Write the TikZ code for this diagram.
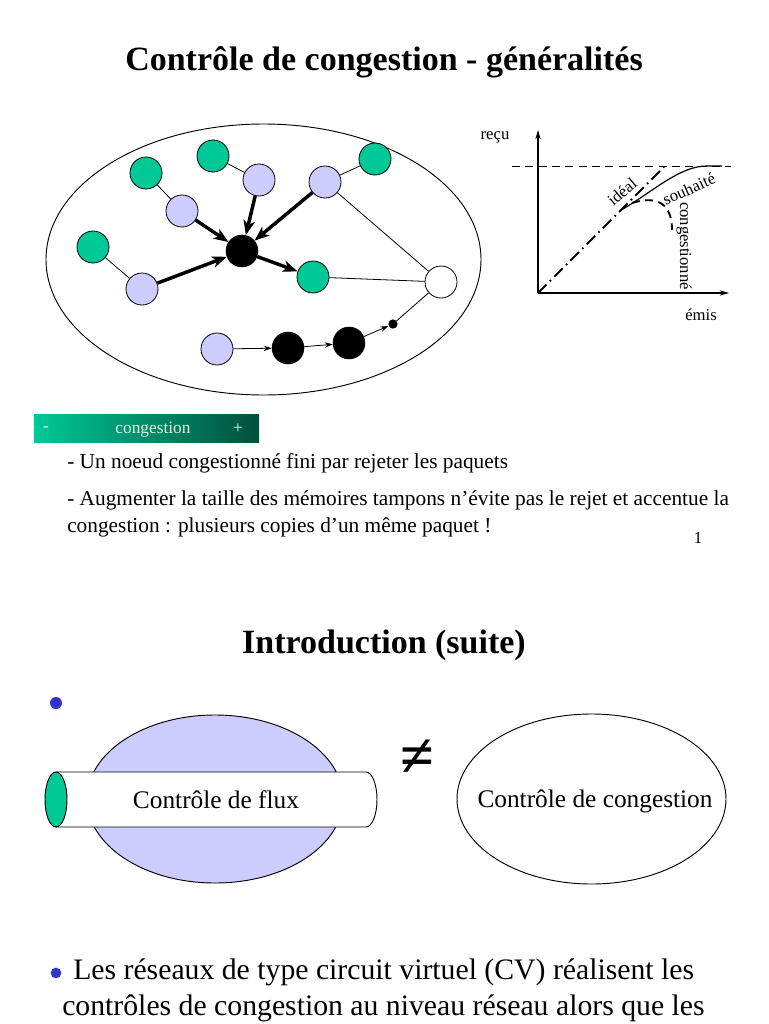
\documentclass[tikz,border=0pt]{standalone}
\usepackage{fontspec}
\setmainfont{Liberation Serif}
\usetikzlibrary{arrows.meta,shapes.geometric}
\definecolor{grn}{HTML}{00C896}
\definecolor{lil}{HTML}{CCCCFF}
\definecolor{bardark}{HTML}{00503C}
\definecolor{bartext}{HTML}{DDF2E6}
\definecolor{bul}{HTML}{3333CC}
\tikzset{
  gnode/.style={circle,draw,line width=0.6pt,fill=grn,minimum size=24pt,inner sep=0pt},
  lnode/.style={circle,draw,line width=0.6pt,fill=lil,minimum size=24pt,inner sep=0pt},
  bnode/.style={circle,draw,fill=black,minimum size=24pt,inner sep=0pt},
  wnode/.style={circle,draw,line width=0.6pt,fill=white,minimum size=24pt,inner sep=0pt},
  dotnode/.style={circle,fill=black,minimum size=7pt,inner sep=0pt},
  thinline/.style={line width=0.6pt},
  heavyarrow/.style={line width=2.6pt,-{Stealth[length=11pt,width=8.5pt,inset=3pt]}},
  lightarrow/.style={line width=0.6pt,-{Stealth[length=6pt,width=4pt]}},
  axisarrow/.style={line width=0.9pt,-{Stealth[length=7pt,width=4pt]}},
  body/.style={font=\fontsize{16}{19}\selectfont,inner sep=0pt,anchor=west},
  big/.style={font=\fontsize{22.3}{26}\selectfont,inner sep=0pt,anchor=west},
  lbl/.style={font=\fontsize{12.5}{14}\selectfont,inner sep=0pt},
  ttl/.style={font=\bfseries\fontsize{25.5}{30}\selectfont,inner sep=0pt},
  bartxt/.style={font=\fontsize{13}{15}\selectfont,text=bartext,inner sep=0pt},
  oval/.style={ellipse,draw,line width=0.7pt,inner sep=0pt},
  bulletdot/.style={circle,fill=bul,inner sep=0pt}
}
\begin{document}
\begin{tikzpicture}[x=0.75pt,y=-0.75pt]
\useasboundingbox (0,0) rectangle (768,1024);

% ---------- Slide 1 ----------
\node[ttl] (title1) at (384,62) {Contrôle de congestion - généralités};

\node[oval,minimum width=326.25pt,minimum height=203.25pt] (net) at (263.5,259.5) {};

\node[gnode] (g1) at (146,173) {};
\node[gnode] (g2) at (213,156) {};
\node[lnode] (l1) at (259,180) {};
\node[lnode] (l2) at (182,211) {};
\node[lnode] (l3) at (325,182) {};
\node[gnode] (g3) at (375,159) {};
\node[gnode] (g4) at (93,247) {};
\node[bnode] (b)  at (242,251) {};
\node[gnode] (g5) at (313,277) {};
\node[lnode] (l4) at (142,289) {};
\node[wnode] (w)  at (441,282) {};
\node[lnode] (l5) at (217,349) {};
\node[bnode] (b2) at (288,348) {};
\node[bnode] (b3) at (349,343) {};
\node[dotnode] (d) at (393,324) {};

\draw[thinline] (g1) -- (l2);
\draw[thinline] (g2) -- (l1);
\draw[thinline] (l3) -- (g3);
\draw[thinline] (g4) -- (l4);
\draw[thinline] (g5) -- (w);
\draw[thinline] (l3) -- (w);
\draw[thinline] (d) -- (w);
\draw[heavyarrow] (l2) -- (b);
\draw[heavyarrow] (l1) -- (b);
\draw[heavyarrow] (l3) -- (b);
\draw[heavyarrow] (l4) -- (b);
\draw[heavyarrow] (b) -- (g5);
\draw[lightarrow] (l5) -- (b2);
\draw[lightarrow] (b2) -- (b3);
\draw[lightarrow] (b3) -- (d);

% chart
\coordinate (o) at (538,293);
\coordinate (ytop) at (538,130);
\coordinate (xend) at (729,293);
\draw[axisarrow] (o) -- (ytop);
\draw[axisarrow] (o) -- (xend);
\coordinate (hl) at (512,166);
\coordinate (hr) at (731,166);
\draw[line width=0.7pt,dash pattern=on 6pt off 4pt] (hl) -- (hr);
\coordinate (idealend) at (664,167);
\draw[line width=1.4pt,dash pattern=on 9pt off 3.5pt on 1.2pt off 3.5pt] (o) -- (idealend);
\coordinate (s0) at (623,209);
\coordinate (s1) at (707,166);
\coordinate (s2) at (722,166);
\draw[line width=0.9pt] (s0) .. controls (655,190) and (680,166) .. (s1) -- (s2);
\coordinate (c0) at (632,203);
\coordinate (c1) at (672,230);
\draw[line width=1.4pt,dash pattern=on 6pt off 4pt] (c0) .. controls (648,198) and (672,196) .. (c1);
\node[lbl] (recu) at (495,137) {reçu};
\node[lbl] (emis) at (701,315) {émis};
\node[lbl,rotate=40] (ideal) at (622,192) {idéal};
\node[lbl,rotate=24] (souh) at (689,189) {souhaité};
\node[lbl,rotate=-90] (cong) at (684,246) {congestionné};

% gradient bar
\node[left color=grn,right color=bardark,minimum width=168.75pt,minimum height=21pt,inner sep=0pt] (bar) at (146.5,428) {};
\node[bartxt] (minus) at (46,429) {-};
\node[bartxt] (congbar) at (153,429.5) {congestion};
\node[bartxt] (plus) at (238,429) {+};

\node[body] (t1) at (67,463) {- Un noeud congestionné fini par rejeter les paquets};
\node[body] (t2) at (67,500) {- Augmenter la taille des mémoires tampons n’évite pas le rejet et accentue la};
\node[body] (t3) at (67,527) {congestion : plusieurs copies d’un même paquet !};
\node[lbl] (pnum) at (698,538) {1};

% ---------- Slide 2 ----------
\node[ttl] (title2) at (384,645) {Introduction (suite)};
\node[bulletdot,minimum size=9pt] (bu1) at (56,703) {};

\node[oval,fill=lil,minimum width=192pt,minimum height=126pt] (flow) at (215,799) {};
\coordinate (pl1) at (56,772);
\coordinate (pr1) at (366,772);
\coordinate (pr2) at (366,827);
\coordinate (pl2) at (56,827);
\draw[line width=0.7pt,fill=white] (pl1) -- (pr1) arc[start angle=90,end angle=-90,x radius=11,y radius=-27.5] -- (pl2) -- cycle;
\node[oval,fill=grn,minimum width=16.5pt,minimum height=41.25pt] (capl) at (56,799.5) {};
\node[font=\fontsize{19}{22}\selectfont,inner sep=0pt] (flux) at (216,800) {Contrôle de flux};

\node[inner sep=0pt,font=\bfseries\fontsize{46}{46}\selectfont] (neq) at (417,758) {≠};

\node[oval,minimum width=201.75pt,minimum height=127.5pt] (cc) at (591.5,799) {};
\node[font=\fontsize{19}{22}\selectfont,inner sep=0pt] (cctxt) at (595,801) {Contrôle de congestion};

\node[bulletdot,minimum size=8pt] (bu2) at (56,973) {};
\node[big] (b1) at (73,972) {Les réseaux de type circuit virtuel (CV) réalisent les};
\node[big] (b2t) at (62,1008) {contrôles de congestion au niveau réseau alors que les};
\end{tikzpicture}
\end{document}
